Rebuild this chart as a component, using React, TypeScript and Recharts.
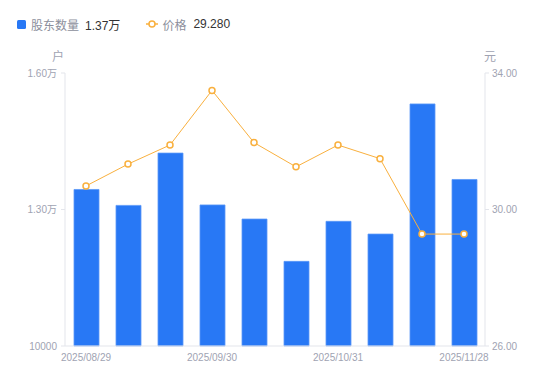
import React from "react";
import { ComposedChart, Bar, Line, XAxis, YAxis } from "recharts";

const dates = [
  "2025/08/29", "2025/09/10", "2025/09/19", "2025/09/30", "2025/10/10",
  "2025/10/20", "2025/10/31", "2025/11/10", "2025/11/20", "2025/11/28",
];
const holders = [13440, 13090, 14240, 13100, 12790, 11860, 12740, 12460, 15320, 13660];
const prices = [30.69, 31.33, 31.89, 33.49, 31.96, 31.25, 31.89, 31.49, 29.28, 29.28];
const leftTicks = [10000, 13000, 16000];
const rightTicks = [26, 30, 34];

const data = dates.map((d, i) => ({ date: d, holders: holders[i], price: prices[i] }));

const FONT = "'Liberation Sans', Arial, 'Noto Sans CJK SC', sans-serif";
const TICK = "#a0a3b2";
const AXIS = "#e3e5eb";
const BLUE = "#2878F5";
const ORANGE = "#F9B03E";

const fmtLeft = (v: number) => (v > 10000 ? (v / 10000).toFixed(2) + "万" : String(v));
const fmtRight = (v: number) => v.toFixed(2);

export default function App() {
  const lastH = holders[holders.length - 1];
  const lastP = prices[prices.length - 1];
  return (
    <div style={{ position: "relative", width: 550, height: 381, fontFamily: FONT }}>
      <div
        style={{
          position: "absolute",
          left: 9,
          top: 8,
          height: 16,
          display: "flex",
          alignItems: "center",
          fontSize: 12,
          whiteSpace: "nowrap",
        }}
      >
        <span style={{ width: 9, height: 9, background: BLUE, borderRadius: 1.5, display: "inline-block" }} />
        <span style={{ color: "#8c8f9c", marginLeft: 5 }}>股东数量</span>
        <span style={{ color: "#333", marginLeft: 6 }}>{(lastH / 10000).toFixed(2) + "万"}</span>
        <svg width={12} height={10} style={{ marginLeft: 26 }}>
          <line x1={0} y1={5} x2={12} y2={5} stroke={ORANGE} strokeWidth={1.5} />
          <circle cx={6} cy={5} r={3} fill="#fff" stroke={ORANGE} strokeWidth={1.5} />
        </svg>
        <span style={{ color: "#8c8f9c", marginLeft: 4 }}>价格</span>
        <span style={{ color: "#333", marginLeft: 7 }}>{lastP.toFixed(3)}</span>
      </div>
      <ComposedChart
        width={550}
        height={381}
        data={data}
        margin={{ top: 65, right: 23, bottom: 13, left: 7 }}
        barCategoryGap={0}
      >
        <XAxis
          dataKey="date"
          interval={2}
          tickLine={false}
          tickSize={4}
          tickMargin={4}
          axisLine={{ stroke: AXIS }}
          tick={{ fill: TICK, fontSize: 10, fontFamily: FONT }}
          height={30}
        />
        <YAxis
          yAxisId="left"
          orientation="left"
          width={50}
          domain={[10000, 16000]}
          ticks={leftTicks}
          tickFormatter={fmtLeft}
          tickSize={4}
          tickMargin={4}
          tickLine={{ stroke: AXIS }}
          axisLine={{ stroke: AXIS }}
          tick={{ fill: TICK, fontSize: 10, fontFamily: FONT }}
          label={{
            content: (p: any) => (
              <text x={p.viewBox.x + p.viewBox.width - 7} y={p.viewBox.y - 12} fill={TICK} fontSize={12} textAnchor="middle" fontFamily={FONT}>
                户
              </text>
            ),
          }}
        />
        <YAxis
          yAxisId="right"
          orientation="right"
          width={50}
          domain={[26, 34]}
          ticks={rightTicks}
          tickFormatter={fmtRight}
          tickSize={4}
          tickMargin={3}
          tickLine={{ stroke: AXIS }}
          axisLine={{ stroke: AXIS }}
          tick={{ fill: TICK, fontSize: 10, fontFamily: FONT }}
          label={{
            content: (p: any) => (
              <text x={p.viewBox.x + 5} y={p.viewBox.y - 12} fill={TICK} fontSize={12} textAnchor="middle" fontFamily={FONT}>
                元
              </text>
            ),
          }}
        />
        <Bar
          yAxisId="left"
          dataKey="holders"
          barSize={25}
          fill={BLUE}
          stroke="#5b98f7"
          strokeWidth={0.8}
          isAnimationActive={false}
        />
        <Line
          yAxisId="right"
          dataKey="price"
          stroke={ORANGE}
          strokeWidth={1}
          dot={{ r: 3, fill: "#fff", stroke: ORANGE, strokeWidth: 1.5 }}
          activeDot={false}
          isAnimationActive={false}
        />
      </ComposedChart>
    </div>
  );
}
